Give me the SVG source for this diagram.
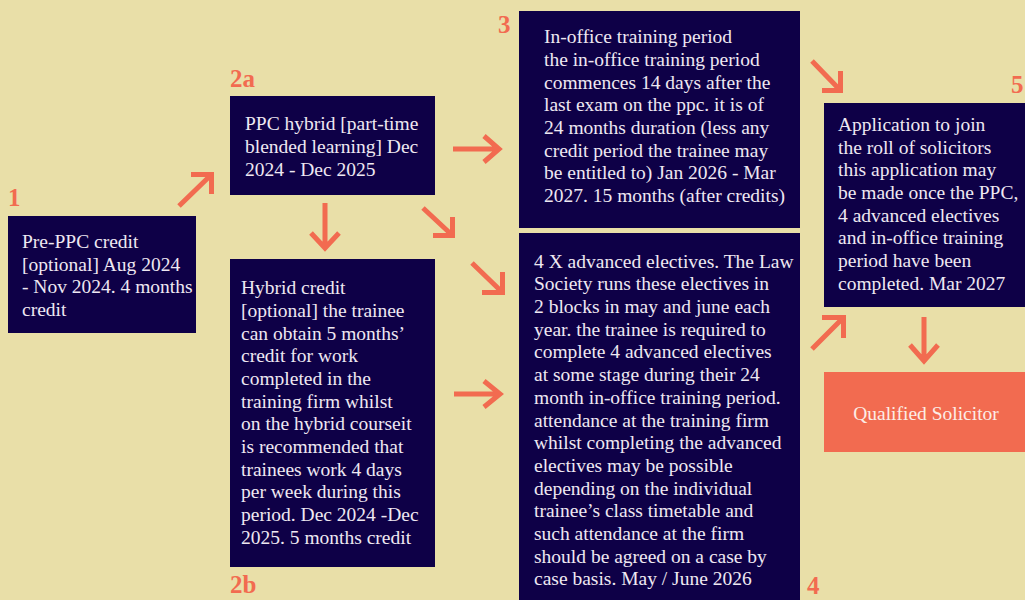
<svg xmlns="http://www.w3.org/2000/svg" width="1025" height="600" viewBox="0 0 1025 600">
<style>
.bg{fill:#E9DFA8}
.box{fill:#0E0047}
.qbox{fill:#F26B50}
.t{font-family:"Liberation Serif","Times New Roman",serif;font-size:19.5px;fill:#EEE8F2}
.qt{font-family:"Liberation Serif","Times New Roman",serif;font-size:19.5px;fill:#FCEDE6;text-anchor:middle}
.num{font-family:"Liberation Serif","Times New Roman",serif;font-size:25px;font-weight:bold;fill:#F26B50}
.arr{stroke:#F26B50;stroke-width:5;fill:none;stroke-linecap:butt;stroke-linejoin:miter}
</style>
<rect class="bg" x="0" y="0" width="1025" height="600"/>
<g id="connectors">
<path class="arr" d="M179,206 L211.5,174.5 M191,174.5 H211.5 V194"/>
<path class="arr" d="M325,203 V248 M311,233 L325,248 L339,233"/>
<path class="arr" d="M423,208 L452.5,235.5 M433,235.5 H452.5 V217"/>
<path class="arr" d="M453,149 H499 M484,136 L499,149 L484,162"/>
<path class="arr" d="M454,394 H500 M484,381 L500,394 L484,407"/>
<path class="arr" d="M472,263 L502.5,292.5 M482,292.5 H502.5 V272"/>
<path class="arr" d="M812,61 L840.5,90.5 M822,90.5 H840.5 V71"/>
<path class="arr" d="M812,349 L843.5,317.5 M822,317.5 H843.5 V338"/>
<path class="arr" d="M924,317 V361 M910,345 L924,361 L938,345"/>
</g>
<g id="node1">
<rect class="box" x="8" y="216" width="188" height="117"/>
<text class="num" x="8" y="206">1</text>
<text class="t"><tspan x="22" y="248">Pre-PPC credit</tspan><tspan x="22" y="271">[optional] Aug 2024</tspan><tspan x="22" y="293">- Nov 2024. 4 months</tspan><tspan x="22" y="316">credit</tspan></text>
</g>
<g id="node2a">
<rect class="box" x="230" y="96" width="205" height="99"/>
<text class="num" x="230" y="87">2a</text>
<text class="t"><tspan x="245" y="130">PPC hybrid [part-time</tspan><tspan x="245" y="153">blended learning] Dec</tspan><tspan x="245" y="176">2024 - Dec 2025</tspan></text>
</g>
<g id="node2b">
<rect class="box" x="230" y="259" width="205" height="308"/>
<text class="num" x="230" y="593">2b</text>
<text class="t"><tspan x="241" y="294">Hybrid credit</tspan><tspan x="241" y="317">[optional] the trainee</tspan><tspan x="241" y="340">can obtain 5 months’</tspan><tspan x="241" y="362">credit for work</tspan><tspan x="241" y="385">completed in the</tspan><tspan x="241" y="408">training firm whilst</tspan><tspan x="241" y="430">on the hybrid courseit</tspan><tspan x="241" y="453">is recommended that</tspan><tspan x="241" y="476">trainees work 4 days</tspan><tspan x="241" y="498">per week during this</tspan><tspan x="241" y="521">period. Dec 2024 -Dec</tspan><tspan x="241" y="544">2025. 5 months credit</tspan></text>
</g>
<g id="node3">
<rect class="box" x="519" y="11" width="281" height="217"/>
<text class="num" x="498" y="33">3</text>
<text class="t"><tspan x="544" y="43">In-office training period</tspan><tspan x="544" y="66">the in-office training period</tspan><tspan x="544" y="89">commences 14 days after the</tspan><tspan x="544" y="111">last exam on the ppc. it is of</tspan><tspan x="544" y="134">24 months duration (less any</tspan><tspan x="544" y="157">credit period the trainee may</tspan><tspan x="544" y="179">be entitled to) Jan 2026 - Mar</tspan><tspan x="544" y="202">2027. 15 months (after credits)</tspan></text>
</g>
<g id="node4">
<rect class="box" x="519" y="233" width="281" height="370"/>
<text class="num" x="807" y="594">4</text>
<text class="t"><tspan x="534" y="268">4 X advanced electives. The Law</tspan><tspan x="534" y="290">Society runs these electives in</tspan><tspan x="534" y="313">2 blocks in may and june each</tspan><tspan x="534" y="336">year. the trainee is required to</tspan><tspan x="534" y="358">complete 4 advanced electives</tspan><tspan x="534" y="381">at some stage during their 24</tspan><tspan x="534" y="404">month in-office training period.</tspan><tspan x="534" y="427">attendance at the training firm</tspan><tspan x="534" y="449">whilst completing the advanced</tspan><tspan x="534" y="472">electives may be possible</tspan><tspan x="534" y="495">depending on the individual</tspan><tspan x="534" y="517">trainee’s class timetable and</tspan><tspan x="534" y="540">such attendance at the firm</tspan><tspan x="534" y="563">should be agreed on a case by</tspan><tspan x="534" y="585">case basis. May / June 2026</tspan></text>
</g>
<g id="node5">
<rect class="box" x="824" y="103" width="205" height="204"/>
<text class="num" x="1011" y="93">5</text>
<text class="t"><tspan x="838" y="131">Application to join</tspan><tspan x="838" y="154">the roll of solicitors</tspan><tspan x="838" y="176">this application may</tspan><tspan x="838" y="199">be made once the PPC,</tspan><tspan x="838" y="222">4 advanced electives</tspan><tspan x="838" y="244">and in-office training</tspan><tspan x="838" y="267">period have been</tspan><tspan x="838" y="290">completed. Mar 2027</tspan></text>
</g>
<g id="qualified">
<rect class="qbox" x="824" y="372" width="205" height="80"/>
<text class="qt" x="926" y="420">Qualified Solicitor</text>
</g>
</svg>
